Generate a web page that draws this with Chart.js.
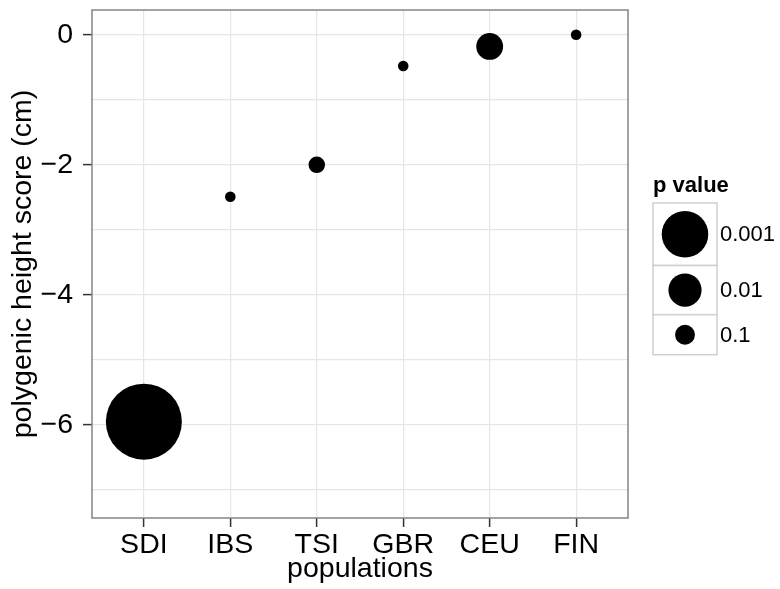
<!DOCTYPE html>
<html lang="en">

<head>
    <meta charset="UTF-8" />
    <title>Polygenic height score</title>
    <script src="https://cdn.jsdelivr.net/npm/chart.js@4.4.0/dist/chart.umd.min.js"></script>
    <style>
        body { margin: 0; background: #fff; }
    </style>
</head>

<body>

    <canvas id="chart" width="780" height="589"></canvas>

    <script>
        // populations on the x axis
        const populations = ['SDI', 'IBS', 'TSI', 'GBR', 'CEU', 'FIN'];
        // polygenic height score (cm)
        const scores = [-5.95, -2.49, -2.0, -0.48, -0.18, 0.0];
        // p values
        const pValues = [0.000006, 0.5, 0.18, 0.5, 0.03, 0.5];
        // size legend
        const legendP = [0.001, 0.01, 0.1];
        const legendLabels = ['0.001', '0.01', '0.1'];

        const FONT = 'Liberation Sans, Arial, Helvetica, sans-serif';

        // size scale: radius grows with -log10(p)
        function radiusFor(p) {
            return 3.3 + 6.65 * -Math.log10(p);
        }

        const points = populations.map((name, i) => ({ x: i, y: scores[i], r: radiusFor(pValues[i]) }));

        // panel border + size legend, ggplot style
        const framePlugin = {
            id: 'frame',
            afterDraw(chart) {
                const { ctx, chartArea } = chart;
                ctx.save();
                ctx.strokeStyle = '#858585';
                ctx.lineWidth = 1.5;
                ctx.strokeRect(chartArea.left, chartArea.top, chartArea.right - chartArea.left, chartArea.bottom - chartArea.top);

                // legend
                const lx = 653, boxW = 64;
                let ly = 203;
                ctx.fillStyle = '#000';
                ctx.font = 'bold 22px ' + FONT;
                ctx.textBaseline = 'alphabetic';
                ctx.textAlign = 'left';
                ctx.fillText('p value', lx, 192);

                legendP.forEach((p, i) => {
                    const r = radiusFor(p);
                    const h = Math.max(40, 2 * r + 16);
                    ctx.fillStyle = '#fff';
                    ctx.fillRect(lx, ly, boxW, h);
                    ctx.strokeStyle = '#cfcfcf';
                    ctx.lineWidth = 1.5;
                    ctx.strokeRect(lx, ly, boxW, h);
                    ctx.fillStyle = '#000';
                    ctx.beginPath();
                    ctx.arc(lx + boxW / 2, ly + h / 2, r, 0, Math.PI * 2);
                    ctx.fill();
                    ctx.font = '22px ' + FONT;
                    ctx.textBaseline = 'middle';
                    ctx.fillText(legendLabels[i], lx + boxW + 3, ly + h / 2 + 1);
                    ly += h;
                });
                ctx.restore();
            }
        };

        const ctx = document.getElementById('chart').getContext('2d');
        const myChart = new Chart(ctx, {
            type: 'bubble',
            data: {
                datasets: [{
                    label: 'p value',
                    data: points,
                    backgroundColor: '#000',
                    borderWidth: 0,
                    hoverBorderWidth: 0
                }]
            },
            options: {
                responsive: false,
                animation: false,
                layout: { autoPadding: false, padding: { top: 10, right: 152, left: 0, bottom: 0 } },
                plugins: {
                    legend: { display: false },
                    tooltip: { enabled: false }
                },
                scales: {
                    x: {
                        type: 'linear',
                        min: -0.6,
                        max: 5.6,
                        afterFit: (scale) => {
                            scale.height = 71;
                            scale.paddingLeft = 0;
                            scale.paddingRight = 0;
                        },
                        ticks: {
                            stepSize: 1,
                            includeBounds: false,
                            autoSkip: false,
                            maxRotation: 0,
                            padding: 1,
                            color: '#000',
                            font: { family: FONT, size: 28.5 },
                            callback: (v) => populations[v] ?? ''
                        },
                        grid: {
                            color: '#e6e6e6',
                            lineWidth: 1.2,
                            tickLength: 9,
                            tickColor: '#333',
                            tickWidth: 1.5
                        },
                        border: { display: false },
                        title: {
                            display: true,
                            text: 'populations',
                            color: '#000',
                            font: { family: FONT, size: 28.5 },
                            padding: { top: 0, bottom: 3 }
                        }
                    },
                    y: {
                        type: 'linear',
                        min: -7.43,
                        max: 0.38,
                        afterFit: (scale) => {
                            scale.width = 92;
                            scale.paddingTop = 0;
                            scale.paddingBottom = 0;
                        },
                        ticks: {
                            stepSize: 1,
                            includeBounds: false,
                            padding: 10,
                            color: '#000',
                            font: { family: FONT, size: 28.5 },
                            callback: (v) => v % 2 !== 0 ? '' : (v < 0 ? '\u2212' + Math.abs(v) : String(v))
                        },
                        grid: {
                            color: '#e6e6e6',
                            lineWidth: 1.2,
                            tickLength: 9,
                            tickWidth: 1.5,
                            tickColor: (c) => c.tick && c.tick.value % 2 === 0 ? '#333' : 'rgba(0,0,0,0)'
                        },
                        border: { display: false },
                        title: {
                            display: true,
                            text: 'polygenic height score (cm)',
                            color: '#000',
                            font: { family: FONT, size: 28.5 },
                            padding: { top: 6, bottom: 0 }
                        }
                    }
                }
            },
            plugins: [framePlugin]
        });
    </script>
</body>

</html>
